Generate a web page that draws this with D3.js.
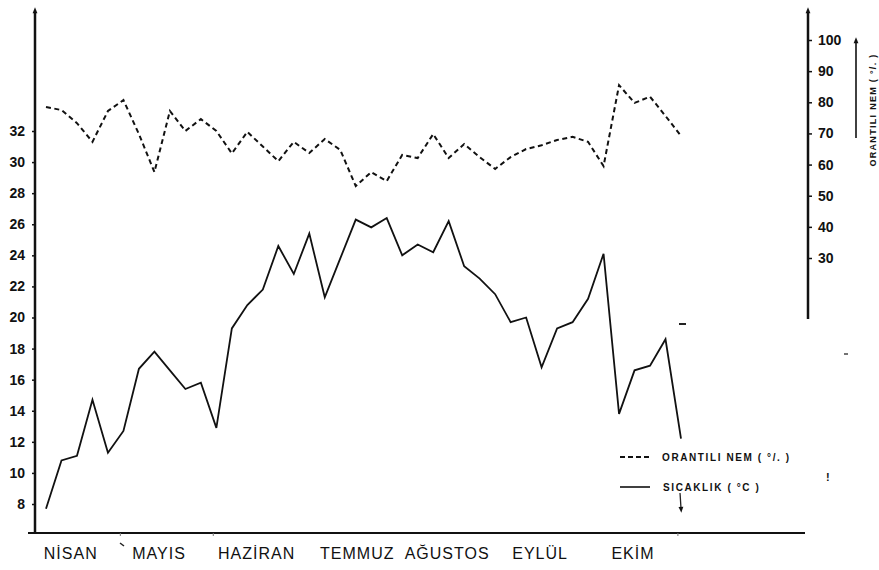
<!DOCTYPE html>
<html>
<head>
<meta charset="utf-8">
<script src="https://cdn.jsdelivr.net/npm/d3@7"></script>
<style>
  body { margin: 0; background: #fff; }
  svg { display: block; }
  text { font-family: "Liberation Sans", Arial, sans-serif; fill: #111; }
</style>
</head>
<body>
<div id="chart"></div>
<script>
// pentad index (5-day periods, April - October)
var pentads = d3.range(42);

// SICAKLIK (°C)
var sicaklik = [7.7, 10.8, 11.1, 14.7, 11.3, 12.7, 16.7, 17.8, 16.6, 15.4,
                15.8, 12.9, 19.3, 20.8, 21.8, 24.6, 22.8, 25.4, 21.3, 23.8,
                26.3, 25.8, 26.4, 24.0, 24.7, 24.2, 26.2, 23.3, 22.5, 21.5,
                19.7, 20.0, 16.8, 19.3, 19.7, 21.2, 24.1, 13.8, 16.6, 16.9,
                18.6, 12.2];

// ORANTILI NEM (%)
var nem = [78.5, 77.5, 73.3, 67.3, 77.2, 80.7, 69.8, 57.6, 77.2, 70.8,
           74.6, 70.8, 63.6, 70.5, 65.8, 61.1, 67.3, 63.7, 68.2, 64.7,
           53.1, 57.6, 54.7, 63.1, 62.1, 69.8, 62.1, 66.6, 62.4, 58.6,
           62.4, 65.0, 66.2, 67.9, 68.9, 67.3, 59.5, 85.5, 79.8, 81.8,
           75.6, 69.2];

var aylar = ["NİSAN", "MAYIS", "HAZİRAN", "TEMMUZ", "AĞUSTOS", "EYLÜL", "EKİM"];
var ayMerkez = [1.6, 7.3, 13.6, 20.1, 25.9, 31.9, 37.9];   // in pentad units
var aySinir = [4.8, 10.8, 40.8];

var sicakTicks = d3.range(8, 33, 2);
var nemTicks = d3.range(30, 101, 10);

var w = 879, h = 570;

var svg = d3.select("#chart").append("svg")
    .attr("width", w)
    .attr("height", h);

var x = d3.scaleLinear().domain([0, 41]).range([46, 681]);
var yT = d3.scaleLinear().domain([8, 32]).range([504, 131]);
var yH = d3.scaleLinear().domain([30, 100]).range([258, 40]);

// arrowhead (points along the line direction)
svg.append("defs").append("marker")
    .attr("id", "ok")
    .attr("viewBox", "0 0 10 10")
    .attr("refX", 2).attr("refY", 5)
    .attr("markerUnits", "userSpaceOnUse")
    .attr("markerWidth", 8).attr("markerHeight", 6)
    .attr("orient", "auto")
    .append("path")
    .attr("d", "M0,1 L10,5 L0,9 Z")
    .attr("fill", "#111");

// left axis
svg.append("line")
    .attr("x1", 35).attr("x2", 35)
    .attr("y1", 533).attr("y2", 12)
    .attr("stroke", "#111").attr("stroke-width", 2.5)
    .attr("marker-end", "url(#ok)");

var leftAx = svg.append("g")
    .attr("transform", "translate(35,0)")
    .call(d3.axisLeft(yT).tickValues(sicakTicks).tickSize(3).tickPadding(7));
leftAx.select(".domain").remove();
leftAx.selectAll("line").attr("stroke", "#111").attr("stroke-width", 1.5);
leftAx.selectAll("text")
    .style("font-family", "Liberation Sans, Arial, sans-serif")
    .style("font-size", "14px")
    .style("font-weight", "bold")
    .attr("fill", "#111");

// right axis
svg.append("line")
    .attr("x1", 808).attr("x2", 808)
    .attr("y1", 319).attr("y2", 12)
    .attr("stroke", "#111").attr("stroke-width", 2.5)
    .attr("marker-end", "url(#ok)");

var rightAx = svg.append("g")
    .attr("transform", "translate(808,0)")
    .call(d3.axisRight(yH).tickValues(nemTicks).tickSize(4).tickPadding(6));
rightAx.select(".domain").remove();
rightAx.selectAll("line").attr("stroke", "#111").attr("stroke-width", 1.5);
rightAx.selectAll("text")
    .style("font-family", "Liberation Sans, Arial, sans-serif")
    .style("font-size", "14px")
    .style("font-weight", "bold")
    .attr("fill", "#111");

// right axis title + arrow
svg.append("line")
    .attr("x1", 856).attr("x2", 856)
    .attr("y1", 138).attr("y2", 42)
    .attr("stroke", "#111").attr("stroke-width", 1.6)
    .attr("marker-end", "url(#ok)");

svg.append("text")
    .attr("transform", "translate(873,110) rotate(-90)")
    .attr("text-anchor", "middle")
    .attr("dy", "0.35em")
    .style("font-size", "9px")
    .style("font-weight", "bold")
    .style("letter-spacing", "1.3px")
    .text("ORANTILI  NEM ( °/. )");

// baseline
svg.append("line")
    .attr("x1", 28).attr("x2", 805)
    .attr("y1", 533).attr("y2", 533)
    .attr("stroke", "#111").attr("stroke-width", 2);

svg.append("g").selectAll("line")
    .data(aySinir)
    .enter().append("line")
    .attr("x1", function(d) { return x(d); })
    .attr("x2", function(d) { return x(d); })
    .attr("y1", 533).attr("y2", 536)
    .attr("stroke", "#777").attr("stroke-width", 1);

// month labels
svg.append("g").selectAll("text")
    .data(aylar)
    .enter().append("text")
    .attr("x", function(d, i) { return x(ayMerkez[i]); })
    .attr("y", 559)
    .attr("text-anchor", "middle")
    .style("font-size", "16px")
    .style("letter-spacing", "1px")
    .text(function(d) { return d; });

svg.append("line")
    .attr("x1", 120).attr("x2", 124)
    .attr("y1", 543).attr("y2", 546)
    .attr("stroke", "#222").attr("stroke-width", 1.5);

// lines
var lineT = d3.line()
    .x(function(d, i) { return x(pentads[i]); })
    .y(function(d) { return yT(d); });

var lineH = d3.line()
    .x(function(d, i) { return x(pentads[i]); })
    .y(function(d) { return yH(d); });

svg.append("path")
    .datum(nem)
    .attr("d", lineH)
    .attr("fill", "none")
    .attr("stroke", "#111")
    .attr("stroke-width", 2)
    .attr("stroke-dasharray", "5,3.5");

svg.append("path")
    .datum(sicaklik)
    .attr("d", lineT)
    .attr("fill", "none")
    .attr("stroke", "#111")
    .attr("stroke-width", 1.8)
    .attr("stroke-linejoin", "miter");

// legend
var legend = svg.append("g").attr("transform", "translate(620,457)");
legend.append("line")
    .attr("x1", 0).attr("x2", 30).attr("y1", 0).attr("y2", 0)
    .attr("stroke", "#111").attr("stroke-width", 2)
    .attr("stroke-dasharray", "5,3");
legend.append("text")
    .attr("x", 42).attr("y", 4)
    .style("font-size", "10px")
    .style("font-weight", "bold")
    .style("letter-spacing", "1.6px")
    .text("ORANTILI  NEM  ( °/. )");
legend.append("line")
    .attr("x1", 0).attr("x2", 30).attr("y1", 30).attr("y2", 30)
    .attr("stroke", "#111").attr("stroke-width", 1.6);
legend.append("text")
    .attr("x", 43).attr("y", 34)
    .style("font-size", "10px")
    .style("font-weight", "bold")
    .style("letter-spacing", "1.6px")
    .text("SICAKLIK   ( °C )");

// small marks from the original sheet
svg.append("line")
    .attr("x1", 680).attr("x2", 681).attr("y1", 493).attr("y2", 508)
    .attr("stroke", "#222").attr("stroke-width", 1.3)
    .attr("marker-end", "url(#ok)");
svg.append("line")
    .attr("x1", 679).attr("x2", 686).attr("y1", 324).attr("y2", 324)
    .attr("stroke", "#222").attr("stroke-width", 2);
svg.append("line")
    .attr("x1", 844).attr("x2", 848).attr("y1", 354).attr("y2", 354)
    .attr("stroke", "#444").attr("stroke-width", 1.5);
svg.append("text")
    .attr("x", 826).attr("y", 481)
    .style("font-size", "11px")
    .style("font-weight", "bold")
    .text("!");
</script>
</body>
</html>
